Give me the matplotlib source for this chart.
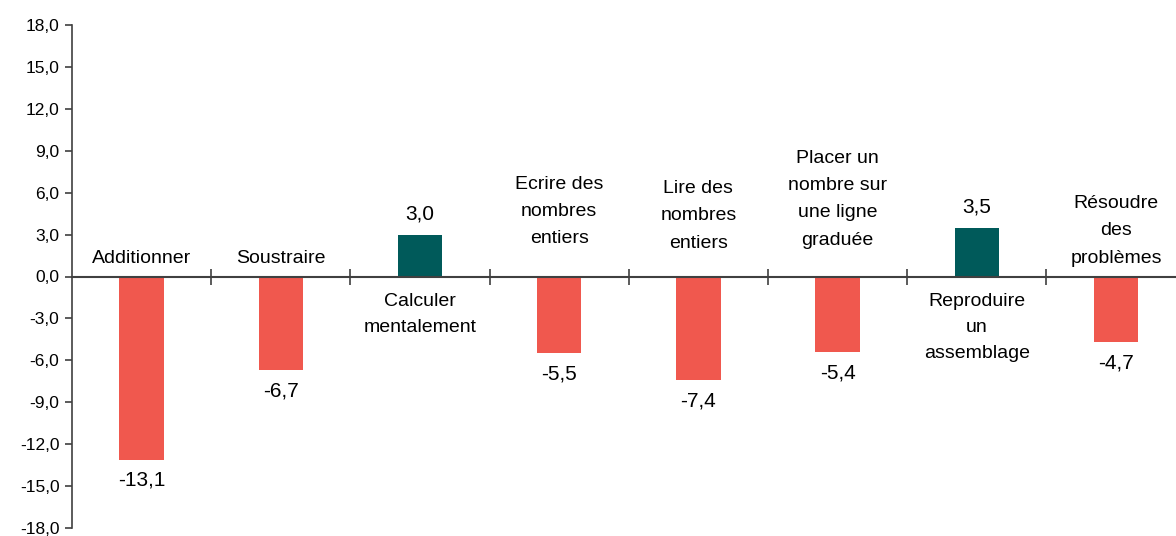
import matplotlib.pyplot as plt
import numpy as np

plt.rcParams['font.family'] = ['Liberation Sans', 'DejaVu Sans']

# data
categories = ["Additionner", "Soustraire", "Calculer\nmentalement",
              "Ecrire des\nnombres\nentiers", "Lire des\nnombres\nentiers",
              "Placer un\nnombre sur\nune ligne\ngraduée",
              "Reproduire\nun\nassemblage", "Résoudre\ndes\nproblèmes"]
values = [-13.1, -6.7, 3.0, -5.5, -7.4, -5.4, 3.5, -4.7]
yticks = np.arange(-18, 19, 3)

# vertical offset (points) of each category label from the zero line
lab_off = [7, 7, -12, 21, 18, 20, -12, 7]

red = "#F0584E"
teal = "#005A5A"
axcol = "#404040"

fig = plt.figure(figsize=(11.76, 5.36), dpi=100)
ax = fig.add_axes([72/1176, 8/536, (1176-72)/1176, 503/536])

x = np.arange(len(values))
cols = [teal if v > 0 else red for v in values]
ax.bar(x, values, width=0.32, color=cols, zorder=3)

ax.set_ylim(-18, 18)
ax.set_xlim(-0.5, -0.5 + (1176-72)/139.2)
ax.set_yticks(yticks)
ax.set_yticklabels([f"{v:.1f}".replace(".", ",") for v in yticks], fontsize=12.5)
ax.tick_params(axis='y', direction='out', length=5, width=1.2, color=axcol, pad=4)

ax.spines['top'].set_visible(False)
ax.spines['right'].set_visible(False)
ax.spines['left'].set_color(axcol)
ax.spines['left'].set_linewidth(1.2)
ax.spines['bottom'].set_position(('data', 0))
ax.spines['bottom'].set_color(axcol)
ax.spines['bottom'].set_linewidth(1.5)
ax.spines['bottom'].set_zorder(4)
ax.set_xticks(x[:-1] + 0.5)
ax.set_xticklabels([])
ax.tick_params(axis='x', direction='inout', length=12, width=1.2, color=axcol)

for i, v in enumerate(values):
    lab = f"{v:.1f}".replace(".", ",")
    if v < 0:
        ax.annotate(categories[i], (i, 0), xytext=(0, lab_off[i]), textcoords='offset points',
                    ha='center', va='bottom', fontsize=14, linespacing=1.8)
        ax.annotate(lab, (i, v), xytext=(0, -8), textcoords='offset points',
                    ha='center', va='top', fontsize=15)
    else:
        ax.annotate(categories[i], (i, 0), xytext=(0, lab_off[i]), textcoords='offset points',
                    ha='center', va='top', fontsize=14, linespacing=1.7)
        ax.annotate(lab, (i, v), xytext=(0, 8), textcoords='offset points',
                    ha='center', va='bottom', fontsize=15)

plt.savefig("out.png", dpi=100)
